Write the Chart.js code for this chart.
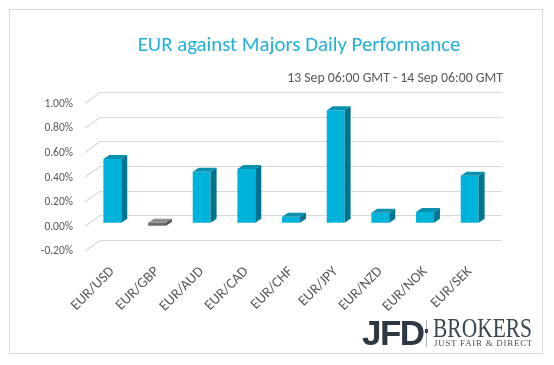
<!DOCTYPE html>
<html>
<head>
<meta charset="utf-8">
<script src="https://cdn.jsdelivr.net/npm/chart.js@4.4.0/dist/chart.umd.min.js"></script>
<style>
  body { margin: 0; background: #fff; }
  #wrap { position: relative; width: 554px; height: 365px; background: #fff; overflow: hidden; }
  #c { position: absolute; left: 0; top: 0; }
  .frame { position: absolute; left: 9px; top: 9px; width: 534px; height: 345px; box-sizing: border-box; border: 1px solid #d9d9d9; }
  .title { position: absolute; left: 0; width: 598px; top: 32px; text-align: center; font-family: Carlito, Lato, sans-serif; font-size: 20.8px; line-height: 24px; color: #22b1d9; white-space: nowrap; }
  .sub { position: absolute; right: 51px; top: 70px; font-family: Carlito, Lato, sans-serif; font-size: 13.8px; line-height: 16px; color: #595959; white-space: nowrap; }
  .jfd { position: absolute; left: 362px; top: 314px; font-family: "Liberation Sans", Arial, sans-serif; font-weight: bold; font-size: 35px; line-height: 38px; color: #2e3842; letter-spacing: -1.5px; }
  .sep { position: absolute; left: 426px; top: 320px; width: 1px; height: 27px; background: #a9b0b6; }
  .dot { position: absolute; left: 425px; top: 329px; width: 3px; height: 4px; background: #3b4650; }
  .brk { position: absolute; left: 433px; top: 314px; font-family: "Liberation Serif", serif; font-size: 26.5px; line-height: 28px; color: #3b4650; transform: scaleX(0.81); transform-origin: left top; }
  .tag { position: absolute; left: 434px; top: 338px; font-family: "Liberation Serif", serif; font-size: 9px; line-height: 10px; color: #4a545d; letter-spacing: 0.7px; white-space: nowrap; }
</style>
</head>
<body>
<div id="wrap">
  <canvas id="c" width="554" height="365"></canvas>
  <div class="frame"></div>
  <div class="title">EUR against Majors Daily Performance</div>
  <div class="sub">13 Sep 06:00 GMT - 14 Sep 06:00 GMT</div>
  <div class="jfd">JFD</div>
  <div class="sep"></div>
  <div class="dot"></div>
  <div class="brk">BROKERS</div>
  <div class="tag">JUST FAIR &amp; DIRECT</div>
</div>
<script>
const pairs = ['EUR/USD', 'EUR/GBP', 'EUR/AUD', 'EUR/CAD', 'EUR/CHF', 'EUR/JPY', 'EUR/NZD', 'EUR/NOK', 'EUR/SEK'];
const changes = [0.52, -0.025, 0.415, 0.437, 0.049, 0.916, 0.081, 0.087, 0.382];
const yMin = -0.2;
const yMax = 1.0;
const yStep = 0.2;

const font = 'Carlito, Lato, sans-serif';

// front / top / side faces of the columns
const face = v => v < 0 ? '#6b6b6b' : '#00b3db';
const topFace = v => v < 0 ? '#8e8e8e' : '#0892b0';
const sideFace = v => v < 0 ? '#4f4f4f' : '#00748e';

const DX = 6, DY = 4;

const depth3d = {
    id: 'depth3d',
    beforeDatasetsDraw(chart) {
        const {ctx, chartArea: a, scales: {y}} = chart;
        ctx.save();
        ctx.strokeStyle = '#d9d9d9';
        ctx.lineWidth = 1.2;
        y.ticks.forEach(t => {
            const py = y.getPixelForValue(t.value);
            const back = Math.round(py - 7.7) + 0.5;
            ctx.beginPath();
            ctx.moveTo(a.left - 5, py + 3.6);
            ctx.lineTo(a.left + 10, back);
            ctx.lineTo(a.right + 10, back);
            ctx.stroke();
        });
        ctx.restore();
    },
    afterDatasetsDraw(chart) {
        const {ctx} = chart;
        const meta = chart.getDatasetMeta(0);
        ctx.save();
        meta.data.forEach((bar, i) => {
            const {x, y, base, width} = bar.getProps(['x', 'y', 'base', 'width'], true);
            const v = changes[i];
            const l = x - width / 2, r = x + width / 2;
            const top = Math.min(y, base), bot = Math.max(y, base);
            ctx.fillStyle = topFace(v);
            ctx.beginPath();
            ctx.moveTo(l, top);
            ctx.lineTo(r, top);
            ctx.lineTo(r + DX, top - DY);
            ctx.lineTo(l + DX, top - DY);
            ctx.closePath();
            ctx.fill();
            ctx.fillStyle = sideFace(v);
            ctx.beginPath();
            ctx.moveTo(r, top);
            ctx.lineTo(r + DX, top - DY);
            ctx.lineTo(r + DX, bot - DY);
            ctx.lineTo(r, bot);
            ctx.closePath();
            ctx.fill();
        });
        ctx.restore();
    }
};

new Chart(document.getElementById('c'), {
    type: 'bar',
    data: {
        labels: pairs,
        datasets: [{
            label: 'Daily change',
            data: changes,
            backgroundColor: changes.map(face),
            borderWidth: 0,
            barPercentage: 0.4,
            categoryPercentage: 1,
        }],
    },
    options: {
        responsive: false,
        animation: false,
        events: [],
        layout: {
            padding: {left: 0, right: 62, top: 100, bottom: 0},
        },
        plugins: {
            legend: {display: false},
            tooltip: {enabled: false},
        },
        scales: {
            x: {
                grid: {display: false, drawTicks: false},
                border: {display: false},
                ticks: {
                    color: '#595959',
                    font: {family: font, size: 14.5},
                    minRotation: 45,
                    maxRotation: 45,
                    padding: 16,
                    autoSkip: false,
                },
                afterFit: s => { s.height = 117.7; },
            },
            y: {
                min: yMin,
                max: yMax,
                grid: {display: false, drawTicks: false},
                border: {display: false},
                ticks: {
                    stepSize: yStep,
                    color: '#595959',
                    font: {family: font, size: 11.5},
                    padding: 17,
                    labelOffset: 4,
                    callback: v => (Math.abs(v) < 1e-9 ? 0 : v).toFixed(2) + '%',
                },
                afterFit: s => { s.width = 90; },
            },
        },
    },
    plugins: [depth3d],
});
</script>
</body>
</html>
